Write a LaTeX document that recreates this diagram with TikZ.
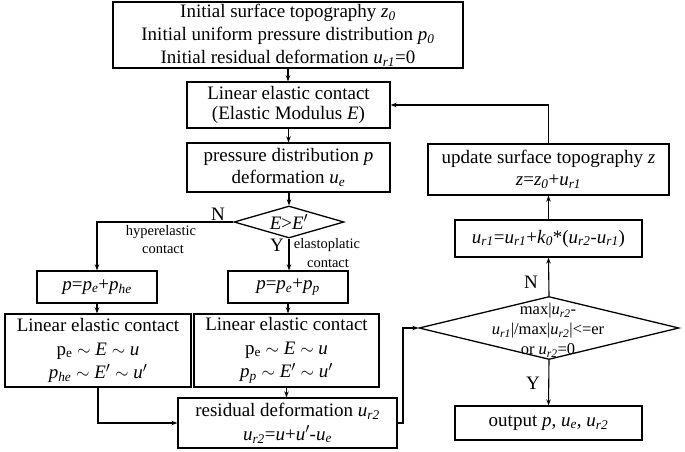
\documentclass[tikz,border=0pt]{standalone}
\usepackage{fontspec}
\setmainfont{Liberation Serif}
\usetikzlibrary{arrows.meta,shapes.geometric}
\newcommand{\vi}[1]{\textit{#1}}
\newcommand{\sbi}[1]{\textsubscript{\textit{#1}}}
\newcommand{\sbu}[1]{\textsubscript{#1}}
\begin{document}
\begin{tikzpicture}[x=1pt,y=-1pt,
  box/.style={draw, line width=1.3pt, rectangle, inner sep=0pt, align=center, font=\fontsize{19}{22}\selectfont},
  conn/.style={line width=1.1pt, -{Stealth[length=6pt,width=4.5pt]}},
  lbl/.style={font=\fontsize{14.5}{17}\selectfont, inner sep=0pt},
  yn/.style={font=\fontsize{19}{22}\selectfont, inner sep=0pt},
  dec/.style={draw, diamond, line width=1.3pt, inner sep=0pt}]
\useasboundingbox (0,0) rectangle (685,452);
% left column
\node[box, minimum width=350pt, minimum height=66pt, font=\fontsize{19}{23}\selectfont] (init) at (288,35) {Initial surface topography \vi{z}\sbi{0}\\ Initial uniform pressure distribution \vi{p}\sbi{0}\\ Initial residual deformation \vi{u}\sbi{r1}=0};
\node[box, minimum width=203pt, minimum height=46pt, font=\fontsize{19}{20}\selectfont] (lec) at (288.5,105) {Linear elastic contact\\(Elastic Modulus \vi{E})};
\node[box, minimum width=203pt, minimum height=49pt] (pd) at (288.5,167.5) {pressure distribution \vi{p}\\deformation \vi{u}\sbi{e}};
\node[dec, minimum width=110pt, minimum height=32pt] (d1) at (289,222) {};
\node[yn] (d1t) at (289,222) {\vi{E}>\vi{E}$'$};
\node[box, minimum width=120pt, minimum height=32pt] (ph) at (97,287) {\vi{p}=\vi{p}\sbi{e}+\vi{p}\sbi{he}};
\node[box, minimum width=120pt, minimum height=32pt] (pp) at (288,287) {\vi{p}=\vi{p}\sbi{e}+\vi{p}\sbi{p}};
\node[box, minimum width=186pt, minimum height=73pt, font=\fontsize{19}{23.5}\selectfont] (lecl) at (98,350.5) {Linear elastic contact\\ p\sbu{e} $\sim$ \vi{E} $\sim$ \vi{u}\\ \vi{p}\sbi{he} $\sim$ \vi{E}$'$ $\sim$ \vi{u}$'$};
\node[box, minimum width=185pt, minimum height=73pt, font=\fontsize{19}{23.5}\selectfont] (lecr) at (286.5,350.5) {Linear elastic contact\\ p\sbu{e} $\sim$ \vi{E} $\sim$ \vi{u}\\ \vi{p}\sbi{p} $\sim$ \vi{E}$'$ $\sim$ \vi{u}$'$};
\node[box, minimum width=219pt, minimum height=50pt, font=\fontsize{19}{24}\selectfont] (res) at (287.5,423) {residual deformation \vi{u}\sbi{r2}\\ \vi{u}\sbi{r2}=\vi{u}+\vi{u}$'$-\vi{u}\sbi{e}};
% right column
\node[dec, minimum width=260pt, minimum height=63pt] (d2) at (549,328) {};
\node[font=\fontsize{16.5}{20}\selectfont, align=center, inner sep=0pt] (d2t) at (548,330) {max|\vi{u}\sbi{r2}-\\ \vi{u}\sbi{r1}|/max|\vi{u}\sbi{r2}|<=er\\ or \vi{u}\sbi{r2}=0};
\node[box, minimum width=187pt, minimum height=37pt] (ur1) at (548.5,238.5) {\vi{u}\sbi{r1}=\vi{u}\sbi{r1}+\vi{k}\sbi{0}*(\vi{u}\sbi{r2}-\vi{u}\sbi{r1})};
\node[box, minimum width=241pt, minimum height=51pt] (upd) at (548.5,169.5) {update surface topography \vi{z}\\ \vi{z}=\vi{z}\sbi{0}+\vi{u}\sbi{r1}};
\node[box, minimum width=187pt, minimum height=34pt] (out) at (548.5,423) {output \vi{p}, \vi{u}\sbi{e}, \vi{u}\sbi{r2}};
% labels
\node[yn] (n1) at (218,214) {N};
\node[lbl] (hy) at (161,232) {hyperelastic};
\node[lbl] (hc) at (163,249) {contact};
\node[yn] (y1) at (277,245) {Y};
\node[lbl] (el) at (327,245) {elastoplatic};
\node[lbl] (ec) at (328,263) {contact};
\node[yn] (n2) at (531,282) {N};
\node[yn] (y2) at (533,383) {Y};
% connectors
\draw[conn] (init.south) -- (init.south |- lec.north);
\draw[conn] (lec.south) -- (lec.south |- pd.north);
\draw[conn] (pd.south -| d1.north) -- (d1.north);
\draw[conn] (d1.west) -| (ph.north);
\draw[conn] (d1.south) -- (d1.south |- pp.north);
\draw[conn] (ph.south) -- (ph.south |- lecl.north);
\draw[conn] (pp.south) -- (pp.south |- lecr.north);
\draw[conn] (lecr.south) -- (lecr.south |- res.north);
\draw[conn] (lecl.south) |- (res.west);
\coordinate (jn) at (403,423);
\draw[conn] (res.east) -- (jn) |- (d2.west);
\draw[conn] (d2.north) -- (ur1.south);
\draw[conn] (ur1.north) -- (upd.south);
\draw[conn] (d2.south) -- (out.north);
\draw[conn] (upd.north) |- (lec.east);
\end{tikzpicture}
\end{document}
